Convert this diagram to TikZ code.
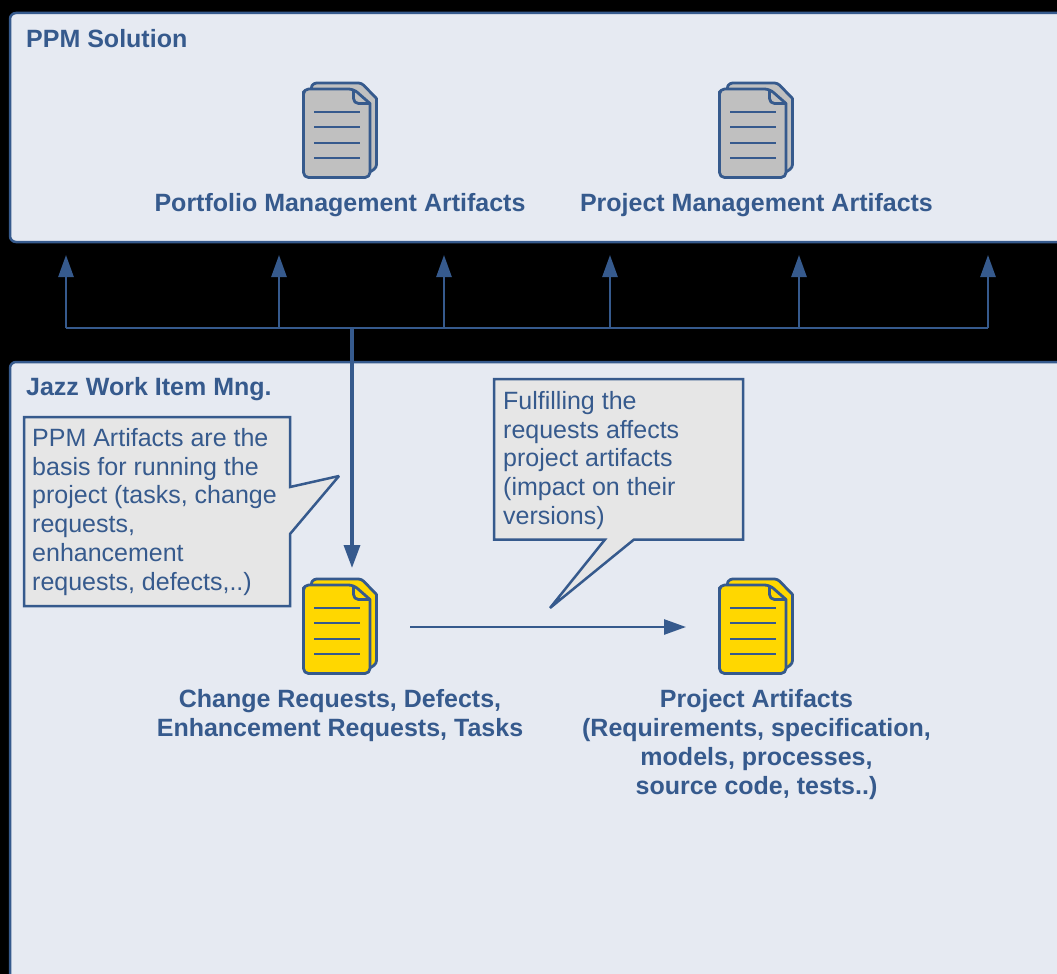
\documentclass[tikz,border=0pt]{standalone}
\usepackage{fontspec}
\setmainfont{Liberation Sans}
\usetikzlibrary{arrows.meta}

\definecolor{linecol}{HTML}{365A8D}
\definecolor{panelcol}{HTML}{E6EAF2}
\definecolor{notecol}{HTML}{E6E6E6}
\definecolor{greydoc}{HTML}{C0C0C0}
\definecolor{yellowdoc}{HTML}{FFD700}

\tikzset{
  panel/.style={draw=linecol,line width=2.5pt,fill=panelcol,rounded corners=6pt},
  paneltitle/.style={anchor=west,text=linecol,font=\fontsize{25}{29}\selectfont\bfseries},
  doclabel/.style={align=center,text=linecol,inner sep=0pt,font=\fontsize{25}{29}\selectfont\bfseries},
  notetext/.style={anchor=north west,align=left,text=linecol,inner sep=0pt,font=\fontsize{25}{28.8}\selectfont},
  note/.style={draw=linecol,line width=2.5pt,fill=notecol,miter limit=3},
  bus/.style={draw=linecol,line width=2.6pt},
  busarrow/.style={bus,-{Triangle[length=22pt,width=15pt]}},
  mainarrow/.style={draw=linecol,line width=3.5pt,-{Triangle[length=23pt,width=16pt]}}
}

% stacked sheets, #1 = top left corner, #2 = fill
\newcommand{\docicon}[2]{
  \begin{scope}[shift={(#1)},draw=linecol,line width=2.8pt,line join=round,fill=#2]
    \filldraw (7,6) [rounded corners=3pt] -- (10,0.5) -- (58,0.5) [rounded corners=0pt] -- (73,16)
      [rounded corners=3pt] -- (73,85) -- (66,90) -- (40,90) -- cycle;
    \filldraw [rounded corners=5pt] (0,14) -- (0,6.5) -- (50,6.5) [rounded corners=0pt] -- (66.5,21)
      [rounded corners=5pt] -- (66.5,95) -- (0,95) -- cycle;
    \draw [rounded corners=5pt] (50,6.5) -- (50,21) -- (66.5,21);
    \foreach \liney in {29.5,44.5,60.5,75.5}
      \draw (10.5,\liney) -- (56.5,\liney);
  \end{scope}
}

\begin{document}
\begin{tikzpicture}[x=1pt,y=-1pt]
\useasboundingbox [fill=black] (0,0) rectangle (1057,974);

% panels
\draw [panel] (10,13) rectangle (1075,242);
\draw [panel] (10,362) rectangle (1075,1000);
\node [paneltitle,inner sep=0pt] (ppmtitle) at (26,38.5) {PPM Solution};
\node [paneltitle,inner sep=0pt] (jazztitle) at (26,389.5) {Jazz Work Item Mng.};

% documents
\docicon{303.5,82.5}{greydoc}
\docicon{719.5,82.5}{greydoc}
\docicon{303.5,578.5}{yellowdoc}
\docicon{719.5,578.5}{yellowdoc}

\node [doclabel] (portfolio) at (340,205) {Portfolio Management Artifacts};
\node [doclabel] (projectmng) at (756.5,205) {Project Management Artifacts};
\node [doclabel] (requests) at (340,715.5) {Change Requests, Defects,\\Enhancement Requests, Tasks};
\node [doclabel] (artifacts) at (756.5,745) {Project Artifacts\\(Requirements, specification,\\models, processes,\\source code, tests..)};

% bus between the panels
\coordinate (busa) at (66,328);
\coordinate (busb) at (279,328);
\coordinate (busc) at (444,328);
\coordinate (busd) at (610,328);
\coordinate (buse) at (799,328);
\coordinate (busf) at (988,328);
\coordinate (busmid) at (352,328);
\coordinate (reqtop) at (352,568);
\coordinate (reqright) at (410,627);
\coordinate (artleft) at (686,627);

\draw [bus] (busa) -- (busf);
\foreach \busname in {busa,busb,busc,busd,buse,busf}
  \draw [busarrow] (\busname) -- (\busname |- 0,255);
\draw [mainarrow] (busmid) -- (reqtop);
\draw [busarrow] (reqright) -- (artleft);

% callouts
\draw [note] (24,417) -- (290,417) -- (290,487) -- (339,476) -- (290,534) -- (290,606) -- (24,606) -- cycle;
\node [notetext] (leftnote) at (32,428) {PPM Artifacts are the\\basis for running the\\project (tasks, change\\requests,\\enhancement\\requests, defects,..)};

\draw [note] (494,379) -- (743,379) -- (743,539.5) -- (634,539.5) -- (550,608) -- (605,539.5) -- (494,539.5) -- cycle;
\node [notetext] (rightnote) at (503,391) {Fulfilling the\\requests affects\\project artifacts\\(impact on their\\versions)};
\end{tikzpicture}
\end{document}
